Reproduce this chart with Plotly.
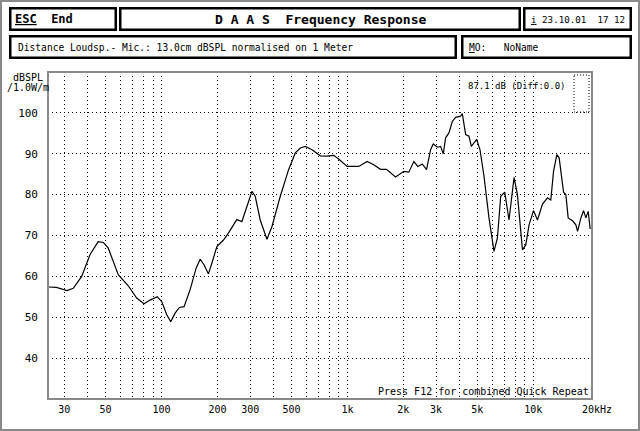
import math
import plotly.graph_objects as go

# ---------------- data ----------------
freq_hz = [24.5, 27.2, 31.0, 33.5, 37.2, 41.2, 45.6, 48.6, 51.7, 58.5, 66.2, 73.5, 80.5, 86.7, 94.9,
           100.3, 106.7, 112.1, 118.3, 124.8, 132.2, 142.4, 153.5, 161.3, 169.5, 178.8, 186.5, 198.5,
           215.4, 229, 254, 270.5, 288, 306.4, 319.2, 339.6, 369.1, 392.8, 435.4, 482.6, 524.4, 557.9,
           593.7, 645.1, 715.2, 777.2, 843.8, 897.6, 996, 1151, 1277, 1386, 1506, 1623, 1815, 2012,
           2140, 2277, 2393, 2527, 2666, 2802, 2897, 3045, 3172, 3281, 3375, 3517, 3668, 3821, 4066,
           4152, 4327, 4508, 4644, 4797, 4960, 5168, 5430, 5777, 6148, 6412, 6681, 7022, 7405, 7879,
           8218, 8746, 9112, 9493, 10026, 10535, 11209, 11927, 12429, 12853, 13391, 13779, 14553,
           14974, 15408, 16271, 16951, 17314, 18039, 18650, 19187, 19743, 20240]
spl_db = [57.4, 57.3, 56.5, 57.1, 60.0, 65.3, 68.5, 68.3, 66.9, 60.4, 57.7, 54.7, 53.3, 54.2, 55.0,
          53.8, 50.6, 48.9, 51.0, 52.4, 52.6, 56.7, 62.0, 64.2, 62.8, 60.6, 63.2, 67.3,
          68.9, 70.6, 73.9, 73.4, 77.1, 80.8, 79.6, 73.8, 69.1, 72.2, 79.6, 86.1, 90.2, 91.4,
          91.8, 91.0, 89.5, 89.4, 89.6, 88.7, 86.9, 86.9, 88.1, 87.3, 86.2, 86.2, 84.3, 85.7,
          85.5, 88.1, 86.9, 87.5, 86.1, 91.0, 92.4, 91.6, 91.8, 90.0, 93.9, 95.1, 97.9, 98.9, 99.2,
          99.8, 94.7, 94.3, 91.8, 92.6, 93.5, 91.0, 84.5, 74.3, 66.1, 69.4, 79.6, 80.6, 73.8, 84.2,
          80.0, 66.5, 67.7, 72.6, 76.1, 73.8, 77.7, 79.2, 78.7, 85.7, 89.8, 89.0, 80.6,
          80.0, 74.3, 73.6, 72.6, 71.0, 74.3, 76.1, 74.3, 75.9, 71.6]

x_grid = [30, 40, 50, 60, 70, 80, 90, 100, 200, 300, 400, 500, 600, 700, 800, 900,
          1000, 2000, 3000, 4000, 5000, 6000, 7000, 8000, 9000, 10000]
x_labels = {30: "30", 50: "50", 100: "100", 200: "200", 300: "300", 500: "500",
            1000: "1k", 2000: "2k", 3000: "3k", 5000: "5k", 10000: "10k"}
y_ticks = [40, 50, 60, 70, 80, 90, 100]
y_range = [30, 110]
x_range_hz = [24.5, 20700]

# ---------------- layout helpers ----------------
W, H = 640, 431
L, R, T, B = 48, 48, 72, 32
PW, PH = W - L - R, H - T - B
MONO = "DejaVu Sans Mono"


def px(x):
    return (x - L) / PW


def py(y):
    return 1 - (y - T) / PH


fig = go.Figure()
fig.add_trace(go.Scatter(x=freq_hz, y=spl_db, mode="lines",
                         line=dict(color="black", width=1.2), showlegend=False,
                         hoverinfo="skip"))

shapes = []
# outer checkered frame
shapes.append(dict(type="rect", xref="paper", yref="paper", x0=px(1), x1=px(639), y0=py(1), y1=py(430),
                   line=dict(color="#8a8a8a", width=2)))
# plot frame
shapes.append(dict(type="rect", xref="paper", yref="paper", x0=0, x1=1, y0=0, y1=1,
                   line=dict(color="#8a8a8a", width=2)))
# header boxes
for (x0, y0, x1, y1) in [(9, 7, 117, 31), (119, 7, 521, 31), (523, 7, 632, 31),
                         (9, 35, 457, 59), (461, 35, 632, 59)]:
    shapes.append(dict(type="rect", xref="paper", yref="paper",
                       x0=px(x0 + 1.25), x1=px(x1 - 1.25), y0=py(y0 + 1.25), y1=py(y1 - 1.25),
                       line=dict(color="black", width=2.5)))
# small indicator box, top right of plot
shapes.append(dict(type="rect", xref="paper", yref="paper", x0=px(574), x1=px(589), y0=py(75), y1=py(112),
                   line=dict(color="black", width=1, dash="1px,2px")))

annotations = []


def txt(x, y, s, size=10, anchor="left", bold=False, yanchor="middle"):
    if bold:
        s = "<b>" + s + "</b>"
    annotations.append(dict(xref="paper", yref="paper", x=px(x), y=py(y), text=s, showarrow=False,
                            xanchor=anchor, yanchor=yanchor,
                            font=dict(family=MONO, size=size, color="black")))


NB = "\u00a0"
txt(13, 19, "<u>ESC</u>" + NB * 2 + "End", size=12, bold=True)
txt(320, 19.5, "D" + NB + "A" + NB + "A" + NB + "S" + NB * 2 + "Frequency" + NB + "Response", size=13, bold=True, anchor="center")
txt(529, 19, "<u>i</u>" + NB + "23.10.01" + NB * 2 + "17" + NB + "12", size=9.2)
txt(16, 47, "Distance Loudsp.- Mic.: 13.0cm dBSPL normalised on 1 Meter", size=9.6)
txt(467, 47, "<u>M</u>O:" + NB * 3 + "NoName", size=9.6)
txt(28, 77, "dBSPL", size=10, anchor="center")
txt(28, 88, "/1.0W/m", size=10, anchor="center")
txt(568, 86, "87.1 dB (Diff:0.0)", size=9, anchor="right")
txt(591, 399, "Press F12 for combined Quick Repeat", size=10, anchor="right", yanchor="bottom")
txt(580, 409, "20kHz", size=10)

fig.update_layout(
    width=W, height=H, margin=dict(l=L, r=R, t=T, b=B, pad=0),
    paper_bgcolor="white", plot_bgcolor="white",
    shapes=shapes, annotations=annotations, showlegend=False,
    xaxis=dict(type="log", range=[math.log10(x_range_hz[0]), math.log10(x_range_hz[1])],
               tickvals=x_grid, ticktext=[x_labels.get(v, "") for v in x_grid],
               showgrid=True, gridcolor="black", gridwidth=1, griddash="1px,3px",
               zeroline=False, showline=False, ticks="", ticklabelstandoff=3,
               tickfont=dict(family=MONO, size=10, color="black"), fixedrange=True),
    yaxis=dict(range=y_range, tickvals=y_ticks, ticktext=[str(v) for v in y_ticks],
               showgrid=True, gridcolor="black", gridwidth=1, griddash="1px,3px",
               zeroline=False, showline=False, ticks="", ticklabelstandoff=9,
               tickfont=dict(family=MONO, size=11, color="black"), fixedrange=True),
)

fig.write_html("out.html", config={"displayModeBar": False},
               post_script="document.body.style.margin='0';document.body.style.overflow='hidden';")
